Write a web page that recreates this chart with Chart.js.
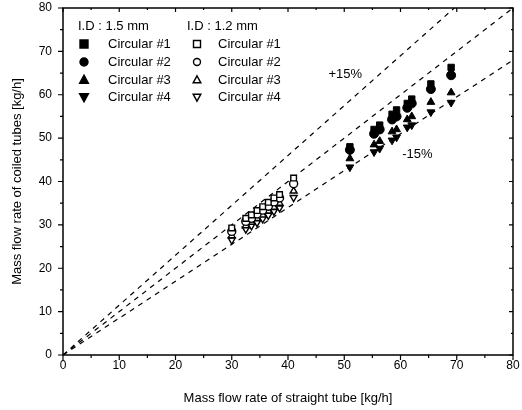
<!DOCTYPE html>
<html><head><meta charset="utf-8">
<script src="https://cdn.jsdelivr.net/npm/chart.js@4/dist/chart.umd.min.js"></script>
<style>html,body{margin:0;padding:0;background:#fff}canvas{display:block}</style>
</head><body>
<canvas id="c" width="522" height="410"></canvas>
<script>
// ---- data ----
const xFilled = [51, 55.3, 56.3, 58.5, 59.3, 61.2, 62, 65.4, 69];
const filled1 = [48, 52, 53, 55.5, 56.5, 58, 59, 62.5, 66.3];
const filled2 = [47.3, 51, 52, 54.3, 55, 57, 58, 61.3, 64.5];
const filled3 = [45.3, 48.5, 49.3, 51.5, 52, 54.3, 55, 58.3, 60.5];
const filled4 = [43.3, 46.8, 47.6, 49.5, 50.2, 52.5, 53, 56, 58.2];

const xHollow = [30, 32.5, 33.5, 34.5, 35.5, 36.5, 37.5, 38.5, 41];
const hollow1 = [29.3, 31.5, 32.3, 33.3, 34.2, 35.2, 36.2, 37, 40.8];
const hollow2 = [28.5, 30.8, 31.5, 32.5, 33.4, 34.3, 35.3, 36.2, 39.5];
const hollow3 = [27.5, 29.8, 30.6, 31.5, 32.3, 33.2, 34.1, 35, 37.8];
const hollow4 = [26.5, 29, 29.8, 30.5, 31.4, 32.2, 33.1, 33.9, 36.3];

const seriesNames = ['Circular #1', 'Circular #2', 'Circular #3', 'Circular #4'];
const groupNames = ['I.D : 1.5 mm', 'I.D : 1.2 mm'];
const refFactors = [1.15, 1.0, 0.85];
const refLabels = ['+15%', '-15%'];
const axisMax = 80;
const xTitle = 'Mass flow rate of straight tube [kg/h]';
const yTitle = 'Mass flow rate of coiled tubes [kg/h]';

// ---- build datasets ----
const styles = [
  {pointStyle: 'rect', rotation: 0},
  {pointStyle: 'circle', rotation: 0},
  {pointStyle: 'triangle', rotation: 0},
  {pointStyle: 'triangle', rotation: 180}
];
function pts(xs, ys) { return xs.map((x, i) => ({x: x, y: ys[i]})); }
const datasets = [];
[filled1, filled2, filled3, filled4].forEach((ys, i) => {
  datasets.push({
    type: 'scatter', label: groupNames[0] + ' ' + seriesNames[i], data: pts(xFilled, ys),
    pointStyle: styles[i].pointStyle, rotation: styles[i].rotation,
    pointRadius: 4.5, backgroundColor: '#000', borderColor: '#000', borderWidth: 1
  });
});
[hollow1, hollow2, hollow3, hollow4].forEach((ys, i) => {
  datasets.push({
    type: 'scatter', label: groupNames[1] + ' ' + seriesNames[i], data: pts(xHollow, ys),
    pointStyle: styles[i].pointStyle, rotation: styles[i].rotation,
    pointRadius: 4, backgroundColor: '#fff', borderColor: '#000', borderWidth: 1.4
  });
});
refFactors.forEach(f => {
  const xEnd = Math.min(axisMax, axisMax / f);
  datasets.push({
    type: 'line', label: 'ref ' + f, data: [{x: 0, y: 0}, {x: xEnd, y: xEnd * f}],
    borderColor: '#000', borderWidth: 1.2, borderDash: [5, 5], pointRadius: 0, fill: false
  });
});

const FONT = 'Liberation Sans, Arial, sans-serif';

function drawMarker(ctx, style, filled, x, y, r) {
  ctx.save();
  ctx.beginPath();
  if (style === 0) { ctx.rect(x - r, y - r, 2 * r, 2 * r); }
  else if (style === 1) { ctx.arc(x, y, r, 0, Math.PI * 2); }
  else if (style === 2) { ctx.moveTo(x, y - r * 1.2); ctx.lineTo(x + r * 1.1, y + r * 0.8); ctx.lineTo(x - r * 1.1, y + r * 0.8); ctx.closePath(); }
  else { ctx.moveTo(x, y + r * 1.2); ctx.lineTo(x + r * 1.1, y - r * 0.8); ctx.lineTo(x - r * 1.1, y - r * 0.8); ctx.closePath(); }
  ctx.fillStyle = filled ? '#000' : '#fff';
  ctx.fill();
  ctx.lineWidth = 1.4; ctx.strokeStyle = '#000'; ctx.stroke();
  ctx.restore();
}

const framePlugin = {
  id: 'frame',
  afterDraw(chart) {
    const ctx = chart.ctx, a = chart.chartArea;
    const xs = chart.scales.x, ys = chart.scales.y;
    ctx.save();
    ctx.strokeStyle = '#000';
    ctx.lineWidth = 1.5;
    ctx.strokeRect(a.left, a.top, a.right - a.left, a.bottom - a.top);
    ctx.lineWidth = 1.2;
    ctx.beginPath();
    for (let v = 0; v <= axisMax; v += 5) {
      const major = v % 10 === 0;
      const px = xs.getPixelForValue(v), py = ys.getPixelForValue(v);
      const lo = major ? 5 : 3, li = major ? 4 : 2;
      ctx.moveTo(px, a.bottom); ctx.lineTo(px, a.bottom + lo);
      ctx.moveTo(a.left, py); ctx.lineTo(a.left - lo, py);
      ctx.moveTo(px, a.top); ctx.lineTo(px, a.top + li);
      ctx.moveTo(a.right, py); ctx.lineTo(a.right - li, py);
    }
    ctx.stroke();

    // legend inside the plot
    ctx.fillStyle = '#000';
    ctx.font = '13px ' + FONT;
    ctx.textBaseline = 'middle';
    const cols = [{head: 78, mark: 84, text: 108, filled: true}, {head: 187, mark: 197, text: 218, filled: false}];
    const rowsY = [26, 44, 62, 80, 97];
    cols.forEach((c, ci) => {
      ctx.fillStyle = '#000';
      ctx.fillText(groupNames[ci], c.head, rowsY[0]);
      seriesNames.forEach((n, i) => {
        drawMarker(ctx, i, c.filled, c.mark, rowsY[i + 1], c.filled ? 4 : 3.5);
        ctx.fillStyle = '#000';
        ctx.fillText(n, c.text, rowsY[i + 1]);
      });
    });
    // reference labels
    ctx.font = '13px ' + FONT;
    ctx.fillText(refLabels[0], xs.getPixelForValue(47.2), ys.getPixelForValue(64.6));
    ctx.fillText(refLabels[1], xs.getPixelForValue(60.3), ys.getPixelForValue(46.3));
    ctx.restore();
  }
};

new Chart(document.getElementById('c'), {
  data: {datasets: datasets},
  options: {
    responsive: false, animation: false, devicePixelRatio: 1,
    layout: {padding: {top: 8, right: 9, left: 0, bottom: 0}},
    plugins: {legend: {display: false}, tooltip: {enabled: false}},
    scales: {
      x: {
        type: 'linear', min: 0, max: axisMax,
        grid: {display: false, drawTicks: false, tickLength: 0}, border: {display: false},
        ticks: {stepSize: 10, color: '#000', font: {family: FONT, size: 12}, padding: 3, maxRotation: 0},
        title: {display: true, text: xTitle, color: '#000', font: {family: FONT, size: 13}, padding: {top: 6}},
        afterFit(s) { s.height = 55; s.paddingLeft = 0; s.paddingRight = 0; }
      },
      y: {
        type: 'linear', min: 0, max: axisMax,
        grid: {display: false, drawTicks: false, tickLength: 0}, border: {display: false},
        ticks: {stepSize: 10, color: '#000', font: {family: FONT, size: 12}, padding: 11},
        title: {display: true, text: yTitle, color: '#000', font: {family: FONT, size: 13}, padding: {top: 10, bottom: 4}},
        afterFit(s) { s.width = 63; s.paddingTop = 0; s.paddingBottom = 0; }
      }
    }
  },
  plugins: [framePlugin]
});
</script>
</body></html>
